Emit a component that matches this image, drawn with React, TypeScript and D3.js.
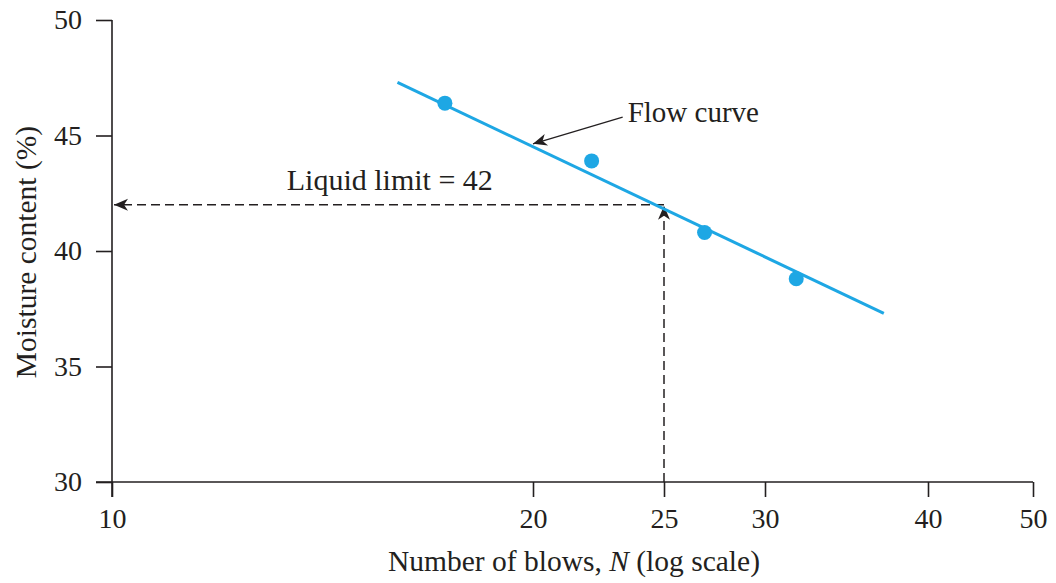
import React, { useEffect, useRef } from 'react';
import * as d3 from 'd3';

// liquid limit test results
const blows = [17.3, 22.1, 26.9, 31.7];
const moisture = [46.4, 43.9, 40.8, 38.8];

// ends of the fitted flow curve
const flowBlows = [16, 37];
const flowMoisture = [47.3, 37.3];

const liquidLimitBlows = 25;
const liquidLimit = 42;

const xTicks = [10, 20, 25, 30, 40, 50];
const yTicks = [30, 35, 40, 45, 50];

// where each x tick sits in the printed figure (its log axis is not quite even)
const xTickPos = [112, 533, 664, 765, 928, 1033];

const FONT = '"Liberation Serif", "Times New Roman", serif';
const INK = '#231f20';
const BLUE = '#1ea7e4';

export default function App() {
  const ref = useRef<SVGSVGElement>(null);

  useEffect(() => {
    const svg = d3.select(ref.current);
    svg.selectAll('*').remove();

    const x = d3.scaleLog().domain(xTicks).range(xTickPos);
    const y = d3.scaleLinear().domain([30, 50]).range([482, 20]);

    // arrow heads
    const defs = svg.append('defs');
    defs.append('marker')
      .attr('id', 'head')
      .attr('viewBox', '-15 -7 16 14')
      .attr('markerWidth', 16)
      .attr('markerHeight', 14)
      .attr('markerUnits', 'userSpaceOnUse')
      .attr('refX', 0)
      .attr('refY', 0)
      .attr('orient', 'auto')
      .append('path')
      .attr('d', 'M0,0 L-14,-6 L-10,0 L-14,6 Z')
      .attr('fill', INK);

    // x axis
    const xAxis = svg.append('g')
      .attr('transform', `translate(0,${y(30)})`)
      .call(d3.axisBottom(x).tickValues(xTicks).tickFormat(d3.format('d')).tickSize(15).tickPadding(11));
    xAxis.select('.domain').remove();
    xAxis.selectAll('line').attr('stroke', INK).attr('stroke-width', 1.6);
    xAxis.selectAll('text')
      .attr('font-family', FONT).attr('font-size', 28).attr('fill', INK);
    svg.append('line')
      .attr('x1', 96).attr('x2', x(50))
      .attr('y1', y(30)).attr('y2', y(30))
      .attr('stroke', INK).attr('stroke-width', 1.6);

    // y axis
    const yAxis = svg.append('g')
      .attr('transform', `translate(${x(10)},0)`)
      .call(d3.axisLeft(y).tickValues(yTicks).tickSize(16).tickPadding(14));
    yAxis.select('.domain').remove();
    yAxis.selectAll('line').attr('stroke', INK).attr('stroke-width', 1.6);
    yAxis.selectAll('text')
      .attr('font-family', FONT).attr('font-size', 28).attr('fill', INK);
    svg.append('line')
      .attr('x1', x(10)).attr('x2', x(10))
      .attr('y1', y(50)).attr('y2', y(30) + 15)
      .attr('stroke', INK).attr('stroke-width', 1.6);

    // axis titles
    svg.append('text')
      .attr('x', 574).attr('y', 571)
      .attr('text-anchor', 'middle')
      .attr('font-family', FONT).attr('font-size', 29.5).attr('fill', INK)
      .call(t => {
        t.append('tspan').text('Number of blows, ');
        t.append('tspan').attr('font-style', 'italic').text('N');
        t.append('tspan').text(' (log scale)');
      });

    svg.append('text')
      .attr('transform', `translate(36,252) rotate(-90)`)
      .attr('text-anchor', 'middle')
      .attr('font-family', FONT).attr('font-size', 29.5).attr('fill', INK)
      .text('Moisture content (%)');

    // liquid limit construction lines
    svg.append('line')
      .attr('x1', x(liquidLimitBlows)).attr('x2', x(10) + 2)
      .attr('y1', y(liquidLimit)).attr('y2', y(liquidLimit))
      .attr('stroke', INK).attr('stroke-width', 1.5)
      .attr('stroke-dasharray', '9 5')
      .attr('marker-end', 'url(#head)');
    svg.append('line')
      .attr('x1', x(liquidLimitBlows)).attr('x2', x(liquidLimitBlows))
      .attr('y1', y(30)).attr('y2', y(liquidLimit) + 1)
      .attr('stroke', INK).attr('stroke-width', 1.5)
      .attr('stroke-dasharray', '9 5')
      .attr('marker-end', 'url(#head)');

    svg.append('text')
      .attr('x', x(15.8)).attr('y', y(liquidLimit) - 15)
      .attr('text-anchor', 'middle')
      .attr('font-family', FONT).attr('font-size', 30).attr('fill', INK)
      .text(`Liquid limit = ${liquidLimit}`);

    // flow curve
    const line = d3.line<number>()
      .x((_, i) => x(flowBlows[i]))
      .y(d => y(d));
    svg.append('path')
      .attr('d', line(flowMoisture))
      .attr('fill', 'none')
      .attr('stroke', BLUE)
      .attr('stroke-width', 3);

    svg.selectAll('circle.pt')
      .data(blows)
      .enter()
      .append('circle')
      .attr('class', 'pt')
      .attr('cx', d => x(d))
      .attr('cy', (_, i) => y(moisture[i]))
      .attr('r', 7.5)
      .attr('fill', BLUE);

    // flow curve label and pointer
    const tipN = 20;
    const t = Math.log(tipN / flowBlows[0]) / Math.log(flowBlows[1] / flowBlows[0]);
    const tipW = flowMoisture[0] + t * (flowMoisture[1] - flowMoisture[0]);
    svg.append('line')
      .attr('x1', x(23.3)).attr('y1', y(45.8))
      .attr('x2', x(tipN)).attr('y2', y(tipW))
      .attr('stroke', INK).attr('stroke-width', 1.3)
      .attr('marker-end', 'url(#head)');
    svg.append('text')
      .attr('x', x(23.5)).attr('y', y(45.6))
      .attr('font-family', FONT).attr('font-size', 29).attr('fill', INK)
      .text('Flow curve');
  }, []);

  return (
    <svg
      ref={ref}
      width={1056}
      height={583}
      style={{ position: 'absolute', left: 0, top: 0, background: '#fff' }}
    />
  );
}
